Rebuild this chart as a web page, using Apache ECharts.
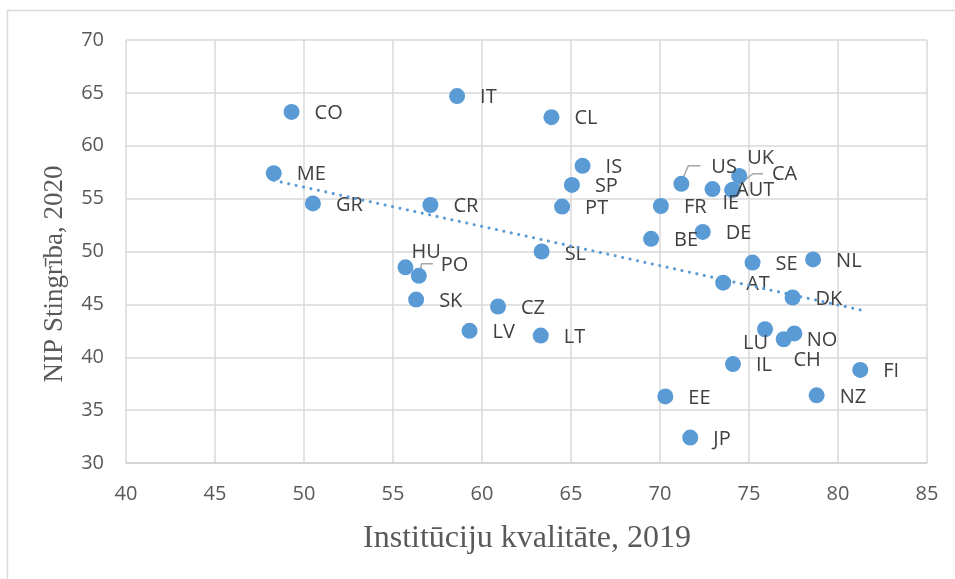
<!DOCTYPE html>
<html>
<head>
<meta charset="utf-8">
<script src="https://cdn.jsdelivr.net/npm/echarts@6/dist/echarts.min.js"></script>
<style>
  html, body { margin: 0; padding: 0; background: #fff; }
  #chart { width: 955px; height: 579px; }
</style>
</head>
<body>
<div id="chart"></div>
<script>
  // valstis un vērtības nolasītas no attēla
  const countries = ['CO', 'IT', 'CL', 'ME', 'GR', 'CR', 'HU', 'PO', 'SK', 'CZ', 'LV', 'LT',
    'SL', 'IS', 'SP', 'PT', 'FR', 'BE', 'US', 'IE', 'AUT', 'CA', 'UK', 'DE', 'SE', 'NL',
    'AT', 'DK', 'LU', 'NO', 'CH', 'IL', 'FI', 'NZ', 'EE', 'JP']
  const quality = [49.3, 58.6, 63.9, 48.3, 50.5, 57.1, 55.7, 56.45, 56.3, 60.9, 59.3, 63.3,
    63.35, 65.65, 65.05, 64.5, 70.05, 69.5, 71.2, 72.95, 74.05, 74.1, 74.45, 72.4, 75.2, 78.6,
    73.55, 77.45, 75.9, 76.95, 77.55, 74.1, 81.25, 78.8, 70.3, 71.7]
  const stringency = [63.2, 64.7, 62.7, 57.4, 54.55, 54.4, 48.5, 47.7, 45.45, 44.8, 42.5, 42.05,
    50.0, 58.1, 56.3, 54.25, 54.3, 51.2, 56.4, 55.9, 55.8, 55.85, 57.15, 51.85, 48.95, 49.25,
    47.05, 45.65, 42.65, 41.7, 42.25, 39.35, 38.8, 36.4, 36.3, 32.4]
  const xTicks = [40, 85, 5]
  const yTicks = [30, 70, 5]

  // etiķešu novietojums (kreisā mala un vidus attiecībā pret punkta centru)
  const labelShift = {
    HU: [6, -15], PO: [22, -11], US: [30, -17], UK: [8, -18], CA: [39, -15],
    AUT: [4, 0], IE: [10, 14], LU: [-22, 14], CH: [-1, 27], SL: [23, 3]
  }
  // vadlīnijas līdz etiķetēm (pikseļu nobīdes no punkta)
  const leader = {
    PO: [[0, -2], [3, -12], [14, -12]],
    US: [[0, -2], [7, -18], [19, -18]],
    CA: [[2, -2], [20, -16], [30, -16]]
  }

  // lineārā trenda līnija (mazāko kvadrātu metode)
  const n = quality.length
  let sx = 0, sy = 0, sxx = 0, sxy = 0
  for (let i = 0; i < n; i++) {
    sx += quality[i]; sy += stringency[i]
    sxx += quality[i] * quality[i]; sxy += quality[i] * stringency[i]
  }
  const slope = (n * sxy - sx * sy) / (n * sxx - sx * sx)
  const icpt = (sy - slope * sx) / n
  const xMin = Math.min(...quality), xMax = Math.max(...quality)

  const points = countries.map((c, i) => ({ name: c, value: [quality[i], stringency[i]] }))

  let myChart = echarts.init(document.getElementById('chart'))
  let option = {
    animation: false,
    grid: { left: 126, right: 28, top: 40, bottom: 116 },
    graphic: [
      {
        id: 'frame', type: 'rect', silent: true, z: -10,
        shape: { x: 7.5, y: 10.5, width: 960, height: 600 },
        style: { fill: null, stroke: '#d9d9d9', lineWidth: 1.5 }
      },
      {
        id: 'xname', type: 'text', silent: true, x: 527, y: 539,
        style: {
          text: 'Institūciju kvalitāte, 2019', align: 'center', verticalAlign: 'middle',
          font: '32px "Liberation Serif", "Times New Roman", serif', fill: '#595959'
        }
      },
      {
        id: 'yname', type: 'text', silent: true, x: 55, y: 274, rotation: Math.PI / 2,
        style: {
          text: 'NIP Stingrība, 2020', align: 'center', verticalAlign: 'middle',
          font: '27px "Liberation Serif", "Times New Roman", serif', fill: '#595959'
        }
      }
    ],
    xAxis: {
      type: 'value', min: xTicks[0], max: xTicks[1], interval: xTicks[2],
      axisLine: { show: true, lineStyle: { color: '#d0d0d0', width: 1.5 } },
      axisTick: { show: false },
      axisLabel: { margin: 21, color: '#595959', fontSize: 20, fontFamily: '"Open Sans"' },
      splitLine: { show: true, lineStyle: { color: '#d9d9d9', width: 1.5 } }
    },
    yAxis: {
      type: 'value', min: yTicks[0], max: yTicks[1], interval: yTicks[2],
      axisLine: { show: false },
      axisTick: { show: false },
      axisLabel: { margin: 22, color: '#595959', fontSize: 20, fontFamily: '"Open Sans"' },
      splitLine: { show: true, lineStyle: { color: '#d9d9d9', width: 1.5 } }
    },
    series: [
      {
        type: 'scatter',
        symbolSize: 16,
        itemStyle: { color: '#5b9bd5', opacity: 1 },
        data: points,
        label: {
          show: true, formatter: '{b}', color: '#404040',
          fontSize: 20, fontFamily: '"Open Sans"'
        },
        labelLayout: function (params) {
          const c = countries[params.dataIndex]
          const cx = params.rect.x + params.rect.width / 2
          const cy = params.rect.y + params.rect.height / 2
          const s = labelShift[c] || [23, 1.5]
          return { x: cx + s[0], y: cy + s[1], align: 'left', verticalAlign: 'middle' }
        }
      },
      {
        type: 'line',
        symbol: 'none',
        silent: true,
        z: 3,
        data: [[xMin, icpt + slope * xMin], [xMax, icpt + slope * xMax]],
        lineStyle: { color: '#5b9bd5', width: 3, type: [0.1, 7.5], cap: 'round' }
      }
    ]
  }
  myChart.setOption(option)

  // vadlīnijas pēc izkārtojuma
  const lines = Object.keys(leader).map(c => {
    const i = countries.indexOf(c)
    const p = myChart.convertToPixel({ seriesIndex: 0 }, [quality[i], stringency[i]])
    return {
      id: 'lead_' + c, type: 'polyline', silent: true, z: 1,
      shape: { points: leader[c].map(d => [p[0] + d[0], p[1] + d[1]]) },
      style: { stroke: '#a6a6a6', lineWidth: 1.5, fill: null }
    }
  })
  myChart.setOption({ graphic: lines })
</script>
</body>
</html>
